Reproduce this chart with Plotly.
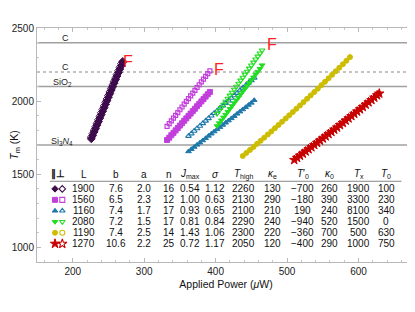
import plotly.graph_objects as go

# ---------------- data ----------------
purple_P = [226, 228, 230, 232, 234, 236, 238, 240, 242, 244, 246, 248, 250, 252, 254, 256, 258, 260, 262, 264, 266, 268, 270]
purple_T = [1742, 1765, 1789, 1812, 1836, 1860, 1884, 1908, 1931, 1955, 1979, 2003, 2027, 2051, 2075, 2099, 2123, 2147, 2171, 2195, 2219, 2243, 2266]
purple_open_T = [1754, 1777, 1801, 1824, 1848, 1872, 1896, 1920, 1943, 1967, 1991, 2015, 2039, 2063, 2087, 2111, 2135, 2159, 2183, 2207, 2231, 2255, 2272]

mag_P = [332, 335, 338, 341, 344, 347, 350, 353, 356, 359, 362, 365, 368, 371, 374, 377, 380, 383, 386, 389, 392]
mag_open_T = [1827, 1846, 1865, 1884, 1903, 1922, 1941, 1960, 1979, 1998, 2017, 2036, 2055, 2074, 2093, 2112, 2131, 2150, 2169, 2188, 2207]
mag_fill_T = [1734, 1750, 1767, 1783, 1800, 1816, 1833, 1849, 1866, 1882, 1899, 1915, 1932, 1948, 1965, 1981, 1998, 2014, 2031, 2047, 2063]

blue_P = [362, 366, 370, 374, 378, 382, 386, 390, 394, 398, 402, 406, 410, 414, 418, 422, 426, 430, 434, 438, 442, 446, 450, 454]
blue_open_T = [1761, 1778, 1796, 1813, 1830, 1848, 1865, 1882, 1900, 1917, 1934, 1952, 1969, 1986, 2003, 2021, 2038, 2055, 2073, 2090, 2107, 2125, 2142, 2159]
blue_fill_T = [1656, 1671, 1686, 1701, 1716, 1731, 1746, 1762, 1777, 1792, 1807, 1822, 1837, 1852, 1867, 1882, 1897, 1913, 1928, 1943, 1958, 1973, 1988, 2006]

green_P = [402, 405, 408, 411, 414, 417, 420, 423, 426, 429, 432, 435, 438, 441, 444, 447, 450, 453, 456, 459, 462, 465]
green_open_T = [1915, 1936, 1956, 1977, 1997, 2018, 2039, 2059, 2080, 2100, 2121, 2142, 2162, 2183, 2203, 2224, 2245, 2265, 2286, 2306, 2327, 2348]
green_fill_T = [1830, 1850, 1869, 1889, 1908, 1928, 1948, 1967, 1987, 2006, 2026, 2046, 2065, 2085, 2104, 2124, 2144, 2163, 2183, 2202, 2222, 2246]

yellow_P = [438, 443, 448, 453, 458, 463, 468, 473, 478, 483, 488, 493, 498, 503, 508, 513, 518, 523, 528, 533, 538, 543, 548, 553, 558, 563, 568, 573, 578, 583, 588]
yellow_T = [1625, 1646, 1666, 1687, 1708, 1729, 1750, 1772, 1793, 1815, 1837, 1859, 1881, 1903, 1925, 1948, 1970, 1993, 2016, 2039, 2062, 2085, 2109, 2132, 2156, 2180, 2204, 2228, 2252, 2276, 2301]

red_P = [510, 514, 518, 522, 526, 530, 534, 538, 542, 546, 550, 554, 558, 562, 566, 570, 574, 578, 582, 586, 590, 594, 598, 602, 606, 610, 614, 618, 622, 626, 629]
red_T = [1598, 1612, 1627, 1641, 1656, 1671, 1685, 1700, 1715, 1730, 1745, 1760, 1775, 1790, 1805, 1820, 1836, 1851, 1867, 1882, 1898, 1913, 1929, 1944, 1960, 1976, 1992, 2008, 2024, 2040, 2052]

# reference melting lines
ref_T = [2400, 2200, 2100, 1700]
ref_labels = ["C", "C", "SiO<sub>2</sub>", "Si<sub>3</sub><i>N</i><sub>4</sub>"]
ref_dash = ["solid", "dot", "solid", "solid"]

# failure marks
F_P = [277, 405, 479]
F_T = [2268, 2218, 2386]

# table
L_vals = ["1900", "1560", "1160", "2080", "1190", "1270"]
b_vals = ["7.6", "6.5", "7.4", "7.2", "7.4", "10.6"]
a_vals = ["2.0", "2.3", "1.7", "1.5", "2.5", "2.2"]
n_vals = ["16", "12", "17", "17", "14", "25"]
Jmax_vals = ["0.54", "1.00", "0.93", "0.81", "1.43", "0.72"]
sigma_vals = ["1.12", "0.63", "0.65", "0.84", "1.06", "1.17"]
Thigh_vals = ["2260", "2130", "2100", "2290", "2300", "2050"]
kappae_vals = ["130", "290", "210", "240", "220", "120"]
T0p_vals = ["\u2212700", "\u2212180", "190", "\u2212940", "\u2212360", "\u2212400"]
kappa0_vals = ["260", "390", "240", "520", "700", "290"]
Tx_vals = ["1900", "3300", "8100", "1500", "500", "1000"]
T0_vals = ["100", "230", "340", "0", "630", "750"]
headers = ["L", "b", "a", "n", "<i>J</i><sub>max</sub>", "<i>σ</i>", "<i>T</i><sub>high</sub>",
           "<i>κ</i><sub>e</sub>", "<i>T</i>′<sub>0</sub>", "<i>κ</i><sub>0</sub>", "<i>T</i><sub>x</sub>", "<i>T</i><sub>0</sub>"]

colors = ["#3d0a4b", "#c23fdc", "#1f78aa", "#22dd22", "#cdbd00", "#c80000"]
fill_symbols = ["diamond", "square", "triangle-up", "triangle-down", "circle", "star"]
open_symbols = ["diamond-open", "square-open", "triangle-up-open", "triangle-down-open", "circle-open", "star-open"]

FONT = "Liberation Sans, Arial, sans-serif"

fig = go.Figure()

def add(P, T, color, symbol, size, lw=1):
    fig.add_trace(go.Scatter(x=P, y=T, mode="markers",
                             marker=dict(symbol=symbol, size=size, color=color,
                                         line=dict(color=color, width=lw)),
                             showlegend=False, hoverinfo="skip"))

# reference lines
for T, d in zip(ref_T, ref_dash):
    fig.add_shape(type="line", xref="paper", x0=0, x1=1, yref="y", y0=T, y1=T,
                  line=dict(color="#a0a0a0" if d == "solid" else "#b0b0b0", width=1.5, dash=d),
                  layer="below")

add(purple_P, purple_T, colors[0], fill_symbols[0], 6)
add(purple_P, purple_open_T, colors[0], open_symbols[0], 6)
add(mag_P, mag_open_T, colors[1], open_symbols[1], 4, 1.2)
add(mag_P, mag_fill_T, colors[1], fill_symbols[1], 5)
add(blue_P, blue_open_T, colors[2], open_symbols[2], 5, 1.1)
add(blue_P, blue_fill_T, colors[2], fill_symbols[2], 5)
add(green_P, green_open_T, colors[3], open_symbols[3], 5, 1.1)
add(green_P, green_fill_T, colors[3], fill_symbols[3], 5)
add(yellow_P, yellow_T, colors[4], fill_symbols[4], 5)
add(red_P, red_T, colors[5], fill_symbols[5], 7)

annotations = []
# reference labels
ref_lab_P = [190, 190, 186, 185]
ref_lab_T = [2430, 2232, 2130, 1727]
for p, t, txt in zip(ref_lab_P, ref_lab_T, ref_labels):
    annotations.append(dict(x=p, y=t, text=txt, showarrow=False, xref="x", yref="y",
                            font=dict(size=9, color="#222", family=FONT)))
# F labels
for p, t in zip(F_P, F_T):
    annotations.append(dict(x=p, y=t, text="F", showarrow=False, xref="x", yref="y",
                            font=dict(size=16, color="#ff2020", family=FONT)))

# table
col_P = [215.5, 260.6, 299.9, 335.4, 364.3, 399.3, 438.9, 480.1, 521.6, 559.4, 600, 638.8]
row_T = [1400, 1325, 1250, 1175, 1100, 1025]
header_T = 1500
cols = [L_vals, b_vals, a_vals, n_vals, Jmax_vals, sigma_vals, Thigh_vals, kappae_vals,
        T0p_vals, kappa0_vals, Tx_vals, T0_vals]
annotations.append(dict(x=180, y=header_T, text="<b>∥⊥</b>", showarrow=False, xref="x", yref="y",
                        font=dict(size=10, color="#111", family=FONT)))
for h, p in zip(headers, col_P):
    annotations.append(dict(x=p, y=header_T, text=h, showarrow=False, xref="x", yref="y",
                            font=dict(size=10, color="#111", family=FONT)))
for vals, p in zip(cols, col_P):
    for v, t in zip(vals, row_T):
        annotations.append(dict(x=p, y=t, text=v, showarrow=False, xref="x", yref="y",
                                font=dict(size=10, color="#111", family=FONT)))
fig.add_shape(type="line", xref="x", yref="y", x0=168, x1=660, y0=1452, y1=1452,
              line=dict(color="#888", width=1))

# table symbols
for i in range(6):
    fig.add_trace(go.Scatter(x=[175.2], y=[row_T[i]], mode="markers",
                             marker=dict(symbol=fill_symbols[i], size=5 if i != 5 else 7, color=colors[i],
                                         line=dict(color=colors[i], width=1)),
                             showlegend=False, hoverinfo="skip"))
    fig.add_trace(go.Scatter(x=[185.4], y=[row_T[i]], mode="markers",
                             marker=dict(symbol=open_symbols[i], size=5 if i != 5 else 7, color=colors[i],
                                         line=dict(color=colors[i], width=1.1)),
                             showlegend=False, hoverinfo="skip"))

axis_common = dict(showgrid=False, zeroline=False, showline=True, linecolor="#b8b8b8", linewidth=1,
                   mirror="ticks", ticks="inside", ticklen=4, tickcolor="#b8b8b8", automargin=False,
                   tickfont=dict(size=10, color="#222", family=FONT))

# the page body adds an 8 px offset, so margins are shifted to compensate
fig.update_layout(
    width=415, height=312,
    margin=dict(l=29, r=8, t=20, b=58),
    paper_bgcolor="white", plot_bgcolor="white",
    font=dict(family=FONT),
    annotations=annotations,
    xaxis=dict(range=[150, 679], tickvals=[200, 300, 400, 500, 600],
               minor=dict(dtick=20, ticks="inside", ticklen=2, tickcolor="#c8c8c8", showgrid=False),
               title=dict(text="Applied Power (<i>μ</i>W)", font=dict(size=10.5, color="#111", family=FONT), standoff=4),
               **axis_common),
    yaxis=dict(range=[900, 2500], tickvals=[1000, 1500, 2000, 2500],
               minor=dict(dtick=100, ticks="inside", ticklen=2, tickcolor="#c8c8c8", showgrid=False),
               title=dict(text="<i>T</i><sub>m</sub> (K)", font=dict(size=10.5, color="#111", family=FONT), standoff=2),
               **axis_common),
)

fig.write_html("out.html")
